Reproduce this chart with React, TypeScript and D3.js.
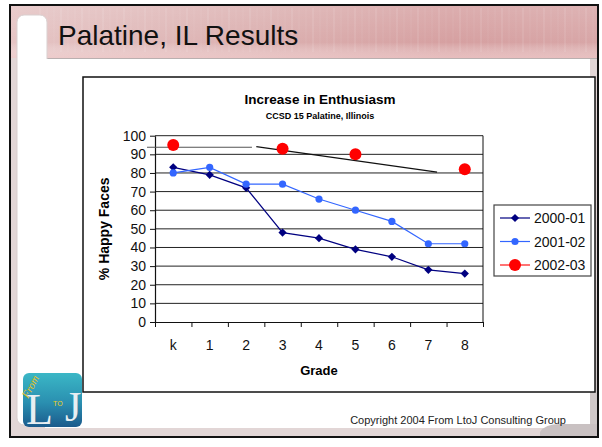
import React, { useEffect, useRef } from "react";
import * as d3 from "d3";

// chart values
const grades = ["k", "1", "2", "3", "4", "5", "6", "7", "8"];
const happy0001 = [83, 79, 72, 48, 45, 39, 35, 28, 26];
const happy0102 = [80, 83, 74, 74, 66, 60, 54, 42, 42];
const grades0203 = ["k", "3", "5", "8"];
const happy0203 = [95, 93, 90, 82];
const yTicks = [0, 10, 20, 30, 40, 50, 60, 70, 80, 90, 100];
const seriesNames = ["2000-01", "2001-02", "2002-03"];
// hand drawn lines on the slide, in (grade index, value)
const noteLines: [number, number, number, number][] = [
  [-0.72, 93.8, 2.16, 93.8],
  [2.28, 94.1, 7.24, 80.4],
];

const W = 602,
  H = 447;
const FONT = "Arial, 'Liberation Sans', sans-serif";

const App: React.FC = () => {
  const ref = useRef<SVGSVGElement | null>(null);

  useEffect(() => {
    const svg = d3.select(ref.current);
    svg.selectAll("*").remove();

    const defs = svg.append("defs");
    const band = defs.append("linearGradient").attr("id", "band");
    band.append("stop").attr("offset", "0%").attr("stop-color", "#e5c4c4");
    band.append("stop").attr("offset", "45%").attr("stop-color", "#dbafaf");
    band.append("stop").attr("offset", "75%").attr("stop-color", "#d6a0a1");
    band.append("stop").attr("offset", "100%").attr("stop-color", "#d8a6a7");
    const bandV = defs
      .append("linearGradient")
      .attr("id", "bandV")
      .attr("x1", 0)
      .attr("x2", 0)
      .attr("y1", 0)
      .attr("y2", 1);
    bandV.append("stop").attr("offset", "0%").attr("stop-color", "#fff").attr("stop-opacity", 0.15);
    bandV.append("stop").attr("offset", "70%").attr("stop-color", "#fff").attr("stop-opacity", 0);
    bandV.append("stop").attr("offset", "100%").attr("stop-color", "#f3d0d0").attr("stop-opacity", 0.6);
    const logo = defs
      .append("linearGradient")
      .attr("id", "logo")
      .attr("x1", 0)
      .attr("x2", 0)
      .attr("y1", 0)
      .attr("y2", 1);
    logo.append("stop").attr("offset", "0%").attr("stop-color", "#3bb7c6");
    logo.append("stop").attr("offset", "55%").attr("stop-color", "#2a8fb0");
    logo.append("stop").attr("offset", "100%").attr("stop-color", "#1b5a8c");

    // slide background
    svg.append("rect").attr("width", W).attr("height", H).attr("fill", "#fff");
    svg
      .append("rect")
      .attr("x", 10)
      .attr("y", 5)
      .attr("width", 588)
      .attr("height", 432)
      .attr("fill", "#e2d6d6");
    svg
      .append("rect")
      .attr("x", 11)
      .attr("y", 6)
      .attr("width", 586)
      .attr("height", 52)
      .attr("fill", "url(#band)");
    svg
      .append("rect")
      .attr("x", 11)
      .attr("y", 6)
      .attr("width", 586)
      .attr("height", 52)
      .attr("fill", "url(#bandV)");
    // faint vertical streaks in the title band
    const streak = d3.range(40, 597, 7);
    svg
      .append("g")
      .selectAll("line")
      .data(streak)
      .enter()
      .append("line")
      .attr("x1", (d) => d)
      .attr("x2", (d) => d)
      .attr("y1", 8)
      .attr("y2", 52)
      .attr("stroke", "#fff")
      .attr("stroke-opacity", (d, i) => (i % 3 === 0 ? 0.18 : 0.08));
    svg
      .append("line")
      .attr("x1", 45)
      .attr("x2", 597)
      .attr("y1", 58.5)
      .attr("y2", 58.5)
      .attr("stroke", "#b9b0b0");
    // white content area + left tab
    svg
      .append("rect")
      .attr("x", 45)
      .attr("y", 59)
      .attr("width", 545)
      .attr("height", 369)
      .attr("fill", "#fff");
    svg
      .append("rect")
      .attr("x", 17)
      .attr("y", 15)
      .attr("width", 30)
      .attr("height", 410)
      .attr("rx", 7)
      .attr("fill", "#fff")
      .attr("stroke", "#d9cfcf");
    svg
      .append("rect")
      .attr("x", 40)
      .attr("y", 59)
      .attr("width", 20)
      .attr("height", 360)
      .attr("fill", "#fff");
    svg
      .append("rect")
      .attr("x", 590)
      .attr("y", 300)
      .attr("width", 7)
      .attr("height", 136)
      .attr("fill", "#cfc8c8");
    svg
      .append("path")
      .attr("d", "M540,437 L540,432 Q545,424 560,424 L597,424 L597,437 Z")
      .attr("fill", "#c9c1c2");
    svg
      .append("rect")
      .attr("x", 10)
      .attr("y", 5)
      .attr("width", 588)
      .attr("height", 432)
      .attr("fill", "none")
      .attr("stroke", "#111")
      .attr("stroke-width", 2);

    svg
      .append("text")
      .attr("x", 58)
      .attr("y", 45)
      .attr("font-family", FONT)
      .attr("font-size", 28)
      .attr("fill", "#111")
      .text("Palatine, IL Results");

    // chart frame
    svg
      .append("rect")
      .attr("x", 83)
      .attr("y", 77)
      .attr("width", 512)
      .attr("height", 315)
      .attr("fill", "#fff")
      .attr("stroke", "#111")
      .attr("stroke-width", 1.5);

    const plot = { left: 155, right: 483, top: 135.7, bottom: 322 };

    const xBand = d3
      .scaleBand()
      .domain(grades)
      .range([plot.left, plot.right])
      .padding(0);
    const xIdx = d3
      .scaleLinear()
      .domain([-0.5, grades.length - 0.5])
      .range([plot.left, plot.right]);
    const cx = (g: string) => (xBand(g) ?? 0) + xBand.bandwidth() / 2;
    const y = d3.scaleLinear().domain([0, 100]).range([plot.bottom, plot.top]);

    // gridlines
    svg
      .append("g")
      .selectAll("line")
      .data(yTicks.filter((t) => t > 0))
      .enter()
      .append("line")
      .attr("x1", plot.left)
      .attr("x2", plot.right)
      .attr("y1", (d) => y(d))
      .attr("y2", (d) => y(d))
      .attr("stroke", "#222")
      .attr("stroke-width", 1);
    svg
      .append("line")
      .attr("x1", plot.right)
      .attr("x2", plot.right)
      .attr("y1", plot.top)
      .attr("y2", plot.bottom)
      .attr("stroke", "#111");

    // axes
    const yAxis = svg
      .append("g")
      .attr("transform", `translate(${plot.left},0)`)
      .call(d3.axisLeft(y).tickValues(yTicks).tickSize(5).tickPadding(4).tickSizeOuter(0));
    yAxis.selectAll("text").attr("font-size", 14).attr("font-family", FONT).attr("fill", "#111");

    const xTicks = svg
      .append("g")
      .attr("transform", `translate(0,${plot.bottom})`)
      .call(
        d3
          .axisBottom(xIdx)
          .tickValues(d3.range(-0.5, grades.length, 1))
          .tickSize(5)
          .tickSizeOuter(0)
          .tickFormat(() => "")
      );
    const xLabels = svg
      .append("g")
      .attr("transform", `translate(0,${plot.bottom})`)
      .call(d3.axisBottom(xBand).tickSize(0).tickPadding(18));
    xLabels.select(".domain").remove();
    xLabels.selectAll("text").attr("font-size", 14).attr("font-family", FONT).attr("fill", "#111");
    [yAxis, xTicks].forEach((a) => {
      a.selectAll("line").attr("stroke", "#111");
      a.select(".domain").attr("stroke", "#111").attr("stroke-width", 1.2);
    });

    // titles
    svg
      .append("text")
      .attr("x", 320)
      .attr("y", 104)
      .attr("text-anchor", "middle")
      .attr("font-family", FONT)
      .attr("font-weight", "bold")
      .attr("font-size", 13.5)
      .text("Increase in Enthusiasm");
    svg
      .append("text")
      .attr("x", 320)
      .attr("y", 119)
      .attr("text-anchor", "middle")
      .attr("font-family", FONT)
      .attr("font-weight", "bold")
      .attr("font-size", 9)
      .text("CCSD 15 Palatine, Illinois");
    svg
      .append("text")
      .attr("x", (plot.left + plot.right) / 2)
      .attr("y", 375)
      .attr("text-anchor", "middle")
      .attr("font-family", FONT)
      .attr("font-weight", "bold")
      .attr("font-size", 13)
      .text("Grade");
    svg
      .append("text")
      .attr("transform", `translate(109,${(plot.top + plot.bottom) / 2}) rotate(-90)`)
      .attr("text-anchor", "middle")
      .attr("font-family", FONT)
      .attr("font-weight", "bold")
      .attr("font-size", 14)
      .text("% Happy Faces");

    // drawn annotation lines
    svg
      .append("g")
      .selectAll("line")
      .data(noteLines)
      .enter()
      .append("line")
      .attr("x1", (d) => xIdx(d[0]))
      .attr("y1", (d) => y(d[1]))
      .attr("x2", (d) => xIdx(d[2]))
      .attr("y2", (d) => y(d[3]))
      .attr("stroke", (d, i) => (i === 0 ? "#555" : "#111"))
      .attr("stroke-width", 1.2);

    // series
    const line = d3
      .line<number>()
      .x((d, i) => cx(grades[i]))
      .y((d) => y(d));
    svg
      .append("path")
      .datum(happy0001)
      .attr("d", line)
      .attr("fill", "none")
      .attr("stroke", "#000080")
      .attr("stroke-width", 1.2);
    svg
      .append("path")
      .datum(happy0102)
      .attr("d", line)
      .attr("fill", "none")
      .attr("stroke", "#3366ff")
      .attr("stroke-width", 1.2);

    // square turned 45deg = Excel style diamond
    const diamond = d3.symbol().type(d3.symbolSquare).size(34);
    svg
      .append("g")
      .selectAll("path")
      .data(happy0001)
      .enter()
      .append("path")
      .attr("d", diamond)
      .attr("transform", (d, i) => `translate(${cx(grades[i])},${y(d)}) rotate(45)`)
      .attr("fill", "#000080");
    svg
      .append("g")
      .selectAll("circle")
      .data(happy0102)
      .enter()
      .append("circle")
      .attr("cx", (d, i) => cx(grades[i]))
      .attr("cy", (d) => y(d))
      .attr("r", 3.6)
      .attr("fill", "#3366ff");
    svg
      .append("g")
      .selectAll("circle")
      .data(happy0203)
      .enter()
      .append("circle")
      .attr("cx", (d, i) => cx(grades0203[i]))
      .attr("cy", (d) => y(d))
      .attr("r", 6)
      .attr("fill", "#ff0000");

    // legend
    const lg = svg.append("g").attr("transform", "translate(494,205)");
    lg.append("rect")
      .attr("width", 97)
      .attr("height", 71)
      .attr("fill", "#fff")
      .attr("stroke", "#444")
      .attr("stroke-width", 1.2);
    const colors = ["#000080", "#3366ff", "#ff0000"];
    const item = lg
      .selectAll("g.item")
      .data(seriesNames)
      .enter()
      .append("g")
      .attr("class", "item")
      .attr("transform", (d, i) => `translate(0,${13 + i * 23.5})`);
    item
      .append("line")
      .attr("x1", 6)
      .attr("x2", 36)
      .attr("stroke", (d, i) => colors[i])
      .attr("stroke-opacity", (d, i) => (i === 2 ? 0.55 : 1))
      .attr("stroke-width", (d, i) => (i === 2 ? 2 : 1.2));
    item.each(function (d, i) {
      const g = d3.select(this);
      if (i === 0) g.append("path").attr("d", diamond).attr("transform", "translate(21,0) rotate(45)").attr("fill", colors[0]);
      if (i === 1) g.append("circle").attr("cx", 21).attr("r", 3.6).attr("fill", colors[1]);
      if (i === 2) g.append("circle").attr("cx", 21).attr("r", 6).attr("fill", colors[2]);
    });
    item
      .append("text")
      .attr("x", 40)
      .attr("y", 5)
      .attr("font-family", FONT)
      .attr("font-size", 14)
      .attr("fill", "#111")
      .text((d) => d);

    // footer
    svg
      .append("text")
      .attr("x", 566)
      .attr("y", 424)
      .attr("text-anchor", "end")
      .attr("font-family", FONT)
      .attr("font-size", 11)
      .attr("fill", "#222")
      .text("Copyright 2004 From LtoJ Consulting Group");

    // LtoJ logo
    const lo = svg.append("g").attr("transform", "translate(23,373)");
    lo.append("rect")
      .attr("width", 59)
      .attr("height", 54)
      .attr("rx", 6)
      .attr("fill", "url(#logo)");
    lo.append("text")
      .attr("x", 3)
      .attr("y", 51)
      .attr("font-family", "'Liberation Serif', serif")
      .attr("font-size", 44)
      .attr("fill", "#e8eef2")
      .text("L");
    lo.append("text")
      .attr("x", 42)
      .attr("y", 48)
      .attr("font-family", "'Liberation Serif', serif")
      .attr("font-size", 42)
      .attr("fill", "#e8eef2")
      .text("J");
    lo.append("text")
      .attr("x", 30)
      .attr("y", 33)
      .attr("font-family", FONT)
      .attr("font-size", 7)
      .attr("fill", "#f0d020")
      .text("TO");
    lo.append("text")
      .attr("transform", "translate(5,26) rotate(-62)")
      .attr("font-family", "'Liberation Serif', serif")
      .attr("font-style", "italic")
      .attr("font-size", 11)
      .attr("fill", "#e8c020")
      .text("From");
  }, []);

  return (
    <svg
      ref={ref}
      width={W}
      height={H}
      style={{ position: "absolute", left: 0, top: 0 }}
    ></svg>
  );
};

export default App;
